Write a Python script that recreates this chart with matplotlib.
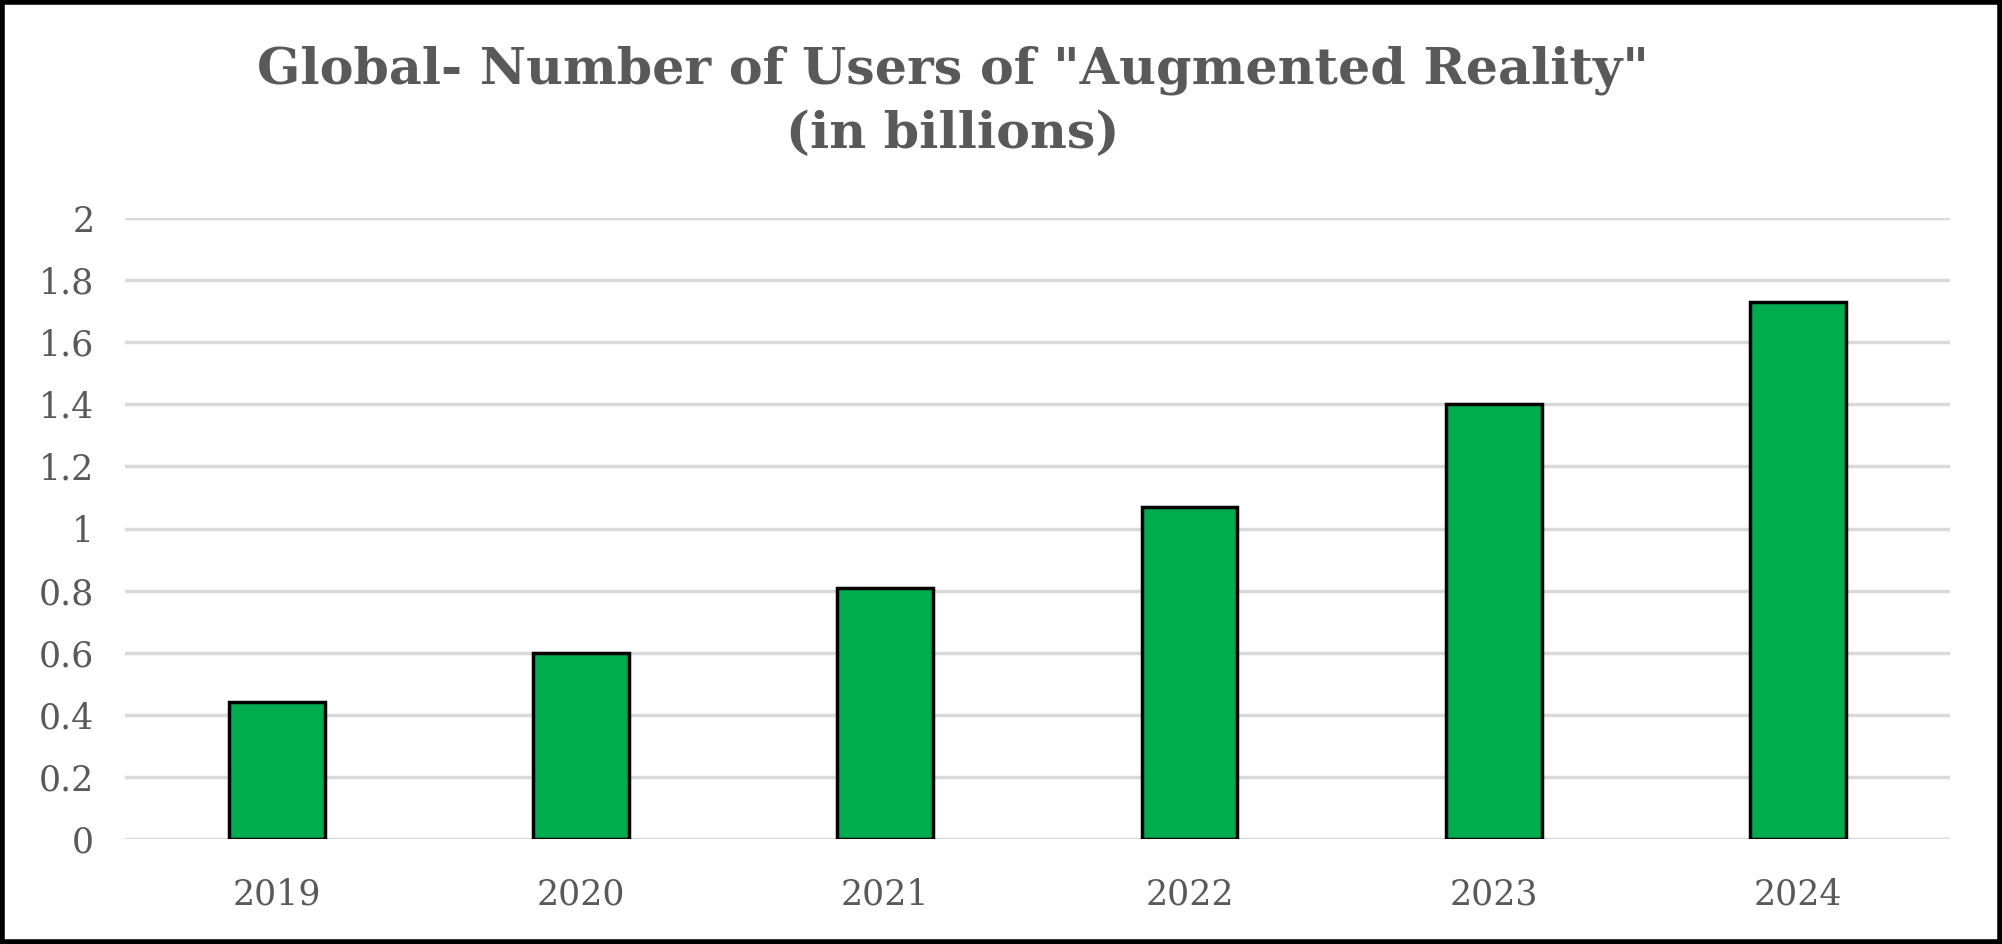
import matplotlib.pyplot as plt
from matplotlib.patches import Rectangle

years = ["2019", "2020", "2021", "2022", "2023", "2024"]
users = [0.44, 0.60, 0.81, 1.07, 1.40, 1.73]
y_ticks = [0, 0.2, 0.4, 0.6, 0.8, 1, 1.2, 1.4, 1.6, 1.8, 2]
y_labels = ["0", "0.2", "0.4", "0.6", "0.8", "1", "1.2", "1.4", "1.6", "1.8", "2"]

text_color = "#595959"
plt.rcParams["font.family"] = ["DejaVu Serif"]

fig = plt.figure(figsize=(20.02, 9.44), dpi=100)
ax = fig.add_axes([0.0624, 0.1112, 0.9116, 0.6578])

x = range(len(years))
ax.bar(x, users, width=0.315, color="#00AD4E", edgecolor="black", linewidth=2.5, zorder=3)

ax.set_xlim(-0.5, len(years) - 0.5)
ax.set_ylim(0, 2)
ax.set_yticks(y_ticks)
ax.set_yticklabels(y_labels)
ax.set_xticks(list(x))
ax.set_xticklabels(years)
ax.tick_params(axis="both", length=0, labelsize=25, colors=text_color)
ax.tick_params(axis="y", pad=22)
ax.tick_params(axis="x", pad=28)
ax.grid(axis="y", color="#D9D9D9", linewidth=2.5, zorder=0)
for s in ax.spines.values():
    s.set_visible(False)

fig.text(0.476, 0.952, 'Global- Number of Users of "Augmented Reality"\n(in billions)',
         ha="center", va="top", fontsize=36.5, fontweight="bold", color=text_color,
         linespacing=1.4)

# black frame round the whole chart
fig.patches.append(Rectangle((0.001, 0.002), 0.998, 0.996, transform=fig.transFigure,
                             fill=False, edgecolor="black", linewidth=4))

fig.savefig("out.png", dpi=100)
